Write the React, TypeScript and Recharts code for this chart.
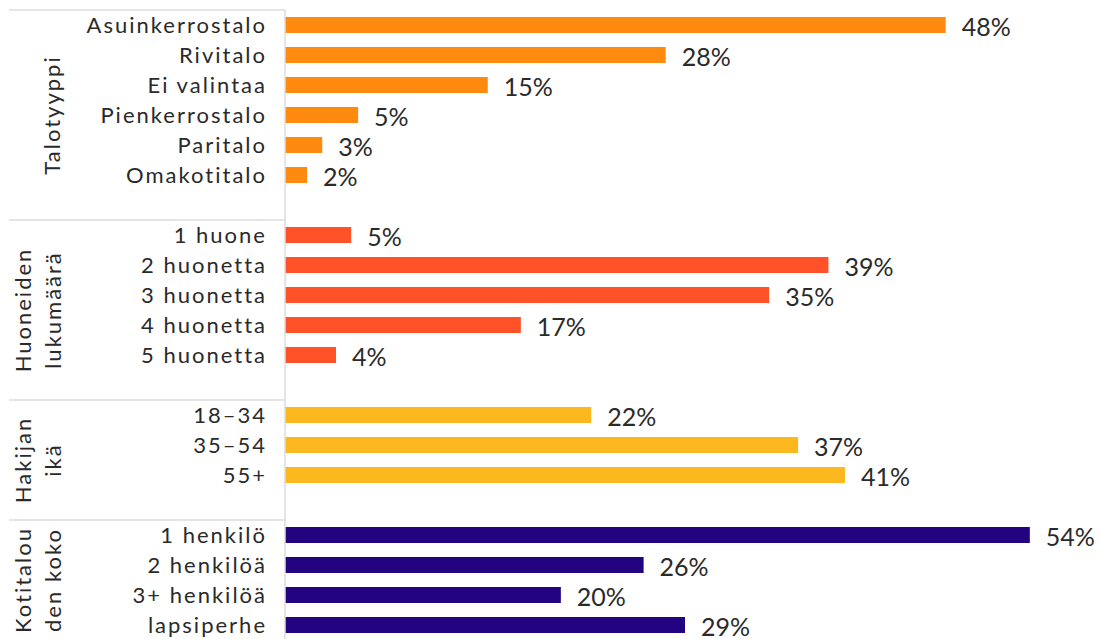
import { BarChart, Bar, XAxis, YAxis, Cell, LabelList } from 'recharts'

const talotyyppiLabels = ['Asuinkerrostalo', 'Rivitalo', 'Ei valintaa', 'Pienkerrostalo', 'Paritalo', 'Omakotitalo']
const talotyyppiValues = [47.9, 27.6, 14.7, 5.3, 2.7, 1.6]

const huoneetLabels = ['1 huone', '2 huonetta', '3 huonetta', '4 huonetta', '5 huonetta']
const huoneetValues = [4.8, 39.4, 35.1, 17.1, 3.7]

const ikaLabels = ['18–34', '35–54', '55+']
const ikaValues = [22.2, 37.2, 40.6]

const kokoLabels = ['1 henkilö', '2 henkilöä', '3+ henkilöä', 'lapsiperhe']
const kokoValues = [54.0, 26.0, 20.0, 29.0]

const groupNames = [['Talotyyppi'], ['Huoneiden', 'lukumäärä'], ['Hakijan', 'ikä'], ['Kotitalou', 'den koko']]
const groupColors = ['#FF8A10', '#FF5229', '#FDB71F', '#23037F']

const FONT = 'Lato, sans-serif'
const TEXT = '#2a2a2a'
const GRID = '#dddddd'

const CHART_H = 640
const MARGIN_TOP = 10

interface Row {
  key: string
  label: string
  value: number | null
  color: string
  group: number
  first: boolean
  span: number
}

const groups = [
  { labels: talotyyppiLabels, values: talotyyppiValues },
  { labels: huoneetLabels, values: huoneetValues },
  { labels: ikaLabels, values: ikaValues },
  { labels: kokoLabels, values: kokoValues },
]

const rows: Row[] = []
groups.forEach((g, gi) => {
  const hasGap = gi < groups.length - 1
  const span = g.labels.length + (hasGap ? 1 : 0)
  g.labels.forEach((label, i) => {
    rows.push({ key: `${gi}-${i}`, label, value: g.values[i], color: groupColors[gi], group: gi, first: i === 0, span })
  })
  if (hasGap) rows.push({ key: `gap-${gi}`, label: '', value: null, color: 'none', group: gi, first: false, span })
})

const rowByKey: Record<string, Row> = {}
rows.forEach((r) => (rowByKey[r.key] = r))

// band height of the category scale
const band = (CHART_H - MARGIN_TOP) / rows.length

function CategoryTick({ x, y, payload }: any) {
  const row = rowByKey[payload.value]
  if (!row) return null
  const top = y - band / 2
  const mid = top + (row.span * band) / 2
  const names = groupNames[row.group]
  const xs = names.length === 1 ? [60] : [31, 61]
  return (
    <g>
      {row.first && <line x1={9} x2={285} y1={top} y2={top} stroke={GRID} strokeWidth={1.5} />}
      {row.first &&
        names.map((t, i) => (
          <text
            key={i}
            x={xs[i]}
            y={mid}
            transform={`rotate(-90 ${xs[i]} ${mid})`}
            textAnchor="middle"
            fill={TEXT}
            fontSize={22}
            fontFamily={FONT}
            letterSpacing={2}
          >
            {t}
          </text>
        ))}
      <text x={x} y={y} dy="0.38em" textAnchor="end" fill={TEXT} fontSize={22} fontFamily={FONT} letterSpacing={2}>
        {row.label}
      </text>
    </g>
  )
}

function ValueLabel({ x, y, width, height, value }: any) {
  if (value == null) return null
  return (
    <text
      x={x + width + 16}
      y={y + height / 2}
      dy="0.45em"
      fill={TEXT}
      fontSize={25}
      fontFamily={FONT}
    >
      {`${Math.round(Number(value))}%`}
    </text>
  )
}

export default function App() {
  return (
    <div style={{ position: 'absolute', left: 0, top: 0, width: 1099, height: 639, overflow: 'hidden', background: '#fff' }}>
      <BarChart
        width={1099}
        height={CHART_H}
        data={rows}
        layout="vertical"
        margin={{ top: MARGIN_TOP, right: 14, bottom: 0, left: 0 }}
      >
        <XAxis type="number" domain={[0, 58]} hide />
        <YAxis
          type="category"
          dataKey="key"
          width={285}
          tickLine={false}
          tickMargin={12}
          axisLine={{ stroke: GRID, strokeWidth: 1.5 }}
          interval={0}
          tick={<CategoryTick />}
        />
        <Bar dataKey="value" barSize={16} isAnimationActive={false}>
          {rows.map((r) => (
            <Cell key={r.key} fill={r.color} />
          ))}
          <LabelList dataKey="value" content={<ValueLabel />} />
        </Bar>
      </BarChart>
    </div>
  )
}
